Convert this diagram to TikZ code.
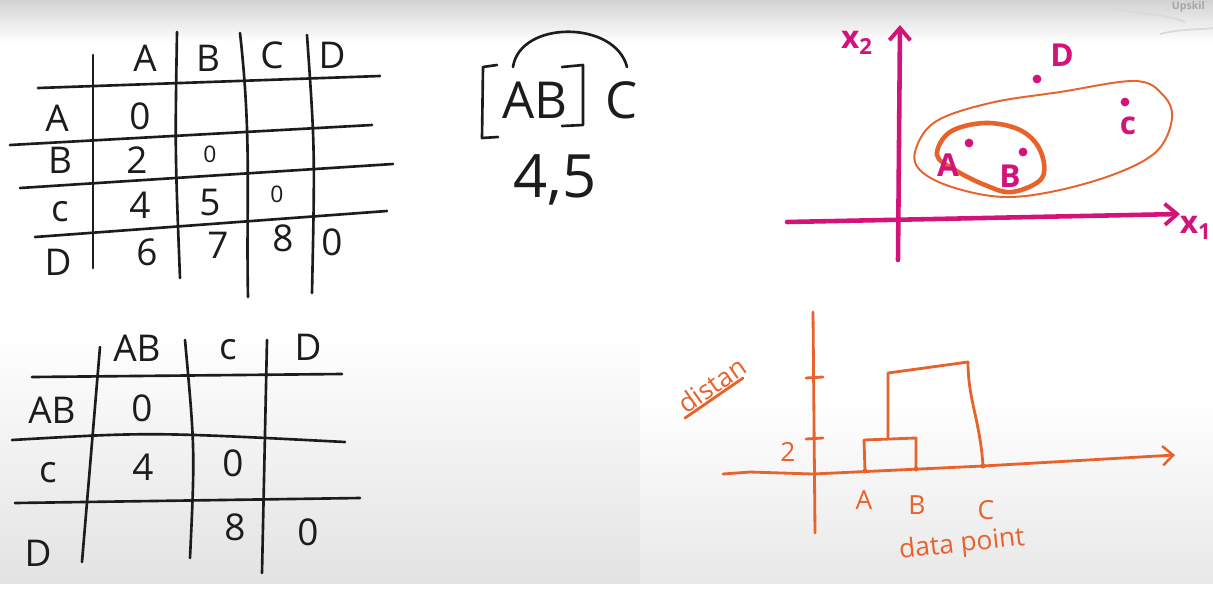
\documentclass[tikz,border=0pt]{standalone}
\usepackage{fontspec}
\setmainfont{Open Sans}
\usetikzlibrary{arrows.meta}

\definecolor{inkblack}{HTML}{1C1C1C}
\definecolor{inkpink}{HTML}{D3127A}
\definecolor{inkorange}{HTML}{E8622C}

\begin{document}
\begin{tikzpicture}[
    x=0.02cm, y=-0.02cm,
    rule/.style={draw=inkblack, line width=1.5pt, line cap=round, line join=round},
    hdr/.style={text=inkblack, font=\fontsize{21}{24}\selectfont, inner sep=0pt},
    tiny0/.style={text=inkblack, font=\fontsize{13}{15}\selectfont, inner sep=0pt},
    big/.style={text=inkblack, font=\fontsize{29}{32}\selectfont, inner sep=0pt},
    axis/.style={draw=inkpink, line width=2.6pt, line cap=round, -{Straight Barb[length=7pt, width=12pt, line width=2.2pt]}},
    pinklbl/.style={text=inkpink, font=\bfseries\fontsize{18}{20}\selectfont, inner sep=0pt},
    pdot/.style={circle, fill=inkpink, inner sep=0pt, minimum size=5pt},
    oline/.style={draw=inkorange, line width=1.6pt, line cap=round, line join=round},
    olbl/.style={text=inkorange, font=\fontsize{15}{18}\selectfont, inner sep=0pt}
]

% canvas
\useasboundingbox (0,0) rectangle (1213,589);
\clip (0,0) rectangle (1213,589);
\fill[white] (0,0) rectangle (1213,589);
\shade[top color=gray!35, bottom color=white] (0,0) rectangle (1213,42);
\shade[top color=white, bottom color=gray!22] (0,330) rectangle (640,583);
\shade[top color=white, bottom color=gray!18] (640,400) rectangle (1213,583);
\draw[gray!30, line width=1pt] (1115,8) .. controls (1140,16) and (1160,12) .. (1185,22);
\draw[gray!30, line width=1pt] (1160,34) .. controls (1185,28) and (1200,30) .. (1213,28);
\node[text=gray!70, font=\bfseries\fontsize{6}{7}\selectfont, anchor=east] (logo) at (1211,7) {Upskil};

% Table 1: distance matrix
\draw[rule] (93,55) -- (93,268);
\draw[rule] (177,32) .. controls (175,150) .. (180,278);
\draw[rule] (240,33) .. controls (252,140) and (246,200) .. (248,297);
\draw[rule] (307,35) .. controls (315,150) .. (312,293);
\draw[rule] (38,88) -- (380,76);
\draw[rule] (10,145) -- (372,125);
\draw[rule] (20,188) -- (393,164);
\draw[rule] (35,237) -- (387,211);

\node[hdr] (hA) at (145,58) {A};
\node[hdr] (hB) at (208,58) {B};
\node[hdr] (hC) at (272,55) {C};
\node[hdr] (hD) at (332,55) {D};
\node[hdr] (rA) at (57,118) {A};
\node[hdr] (rB) at (60,160) {B};
\node[hdr] (rC) at (60,212) {c};
\node[hdr] (rD) at (58,262) {D};

\node[hdr] (aa) at (140,116) {0};
\node[hdr] (ba) at (137,160) {2};
\node[tiny0] (bb) at (210,154) {0};
\node[hdr] (ca) at (140,205) {4};
\node[hdr] (cb) at (210,203) {5};
\node[tiny0] (cc) at (277,194) {0};
\node[hdr] (da) at (147,252) {6};
\node[hdr] (db) at (218,245) {7};
\node[hdr] (dc) at (283,238) {8};
\node[hdr] (dd) at (332,242) {0};

% Table 2: after merging A and B
\draw[rule] (100,347) -- (82,562);
\draw[rule] (185,340) .. controls (195,450) .. (190,558);
\draw[rule] (267,340) -- (262,573);
\draw[rule] (32,377) -- (342,374);
\draw[rule] (12,440) .. controls (150,432) .. (345,442);
\draw[rule] (15,503) -- (360,498);

\node[hdr] (h2AB) at (137,348) {AB};
\node[hdr] (h2C) at (228,350) {c};
\node[hdr] (h2D) at (308,347) {D};
\node[hdr] (r2AB) at (52,410) {AB};
\node[hdr] (r2C) at (48,473) {c};
\node[hdr] (r2D) at (38,553) {D};

\node[hdr] (m11) at (142,408) {0};
\node[hdr] (m21) at (143,467) {4};
\node[hdr] (m22) at (233,463) {0};
\node[hdr] (m32) at (235,527) {8};
\node[hdr] (m33) at (308,532) {0};

% merge note
\draw[rule] (497,65) -- (483,67) -- (482,138) -- (498,137);
\draw[rule] (562,67) -- (583,65) -- (583,125) -- (562,126);
\node[big] (mAB) at (535,100) {AB};
\node[big] (mC) at (622,100) {C};
\draw[rule] (513,67) .. controls (520,20) and (615,20) .. (627,67);
\node[big, font=\fontsize{34}{38}\selectfont] (mval) at (555,180) {4,5};

% scatter of points
\draw[axis] (898,260) -- (900,25);
\draw[axis] (787,222) -- (1180,214);
\node[pinklbl] (lx2) at (857,43) {x\textsubscript{2}};
\node[pinklbl, anchor=east] (lx1) at (1212,228) {x\textsubscript{1}};

\draw[inkorange, line width=1.1pt] plot[smooth cycle, tension=0.6] coordinates {
  (915,152) (935,122) (990,103) (1060,92) (1135,81) (1163,95) (1172,118)
  (1158,150) (1120,172) (1060,190) (1005,197) (955,188) (922,172)};
\draw[inkorange, line width=2.6pt] plot[smooth cycle, tension=0.6] coordinates {
  (937,155) (950,132) (985,123) (1020,130) (1040,150) (1042,178)
  (1012,192) (985,185) (955,170)};

\node[pdot] (pA) at (969,143) {};
\node[pdot] (pB) at (1023,152) {};
\node[pdot] (pC) at (1125,102) {};
\node[pdot] (pD) at (1037,79) {};
\node[pinklbl] (lA) at (948,165) {A};
\node[pinklbl] (lB) at (1010,176) {B};
\node[pinklbl] (lC) at (1128,126) {c};
\node[pinklbl] (lD) at (1062,55) {D};

% dendrogram
\coordinate (o) at (813,474);
\coordinate (dA) at (865,471);
\coordinate (dB) at (916,469);
\coordinate (dC) at (983,466);
\draw[oline] (813,312) -- (815,533);
\draw[oline] (806,378) -- (823,377);
\draw[oline] (806,439) -- (823,438);
\draw[oline, -{Straight Barb[length=6pt, width=11pt, line width=1.4pt]}]
  (723,474) -- (750,472) -- (o) -- (dC) -- (1175,455);
\draw[oline] (dA) -- (864,440) -- (916,438) -- (dB);
\draw[oline] (888,438) -- (888,373) -- (968,362) .. controls (968,400) and (980,420) .. (dC);
\foreach \p in {dA,dB,dC} \fill[inkorange] (\p) circle (2.5);

\node[olbl] (t2) at (788,452) {2};
\node[olbl] (tA) at (864,500) {A};
\node[olbl] (tB) at (917,505) {B};
\node[olbl] (tC) at (986,510) {C};
\node[olbl, rotate=6] (tdata) at (962,545) {data point};
\node[olbl, rotate=35] (tdist) at (712,385) {distan};
\draw[oline] (685,418) -- (743,378);

\end{tikzpicture}
\end{document}
